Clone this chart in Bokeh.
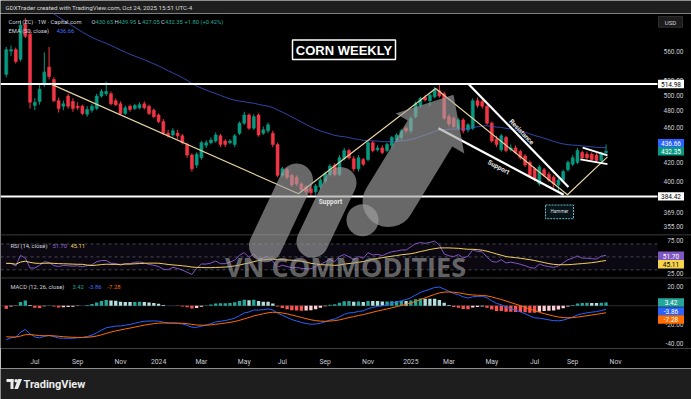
import math
import numpy as np
import pandas as pd
from bokeh.plotting import figure
from bokeh.layouts import column
from bokeh.models import Range1d, LinearScale, LogScale, FixedTicker
from bokeh.embed import file_html
from bokeh.resources import INLINE
from bokeh.core.properties import value

FONT = "Roboto"

# ---------------- data (weekly bars) ----------------
first_week = "2023-05-22"

opens = [528, 561, 563, 549, 601, 586, 487, 492, 514, 538,
         521, 493, 486, 499, 492, 486, 486, 476, 481, 483,
         499, 502, 502, 493, 489, 477, 486, 483, 484, 489,
         486, 481, 475, 467, 453, 451, 453, 450, 440, 428,
         417, 425, 439, 442, 444, 450, 444, 442, 440, 453,
         465, 475, 459, 475, 453, 456, 453, 440, 406, 412,
         406, 404, 397, 394, 392, 389, 394, 400, 407, 417,
         407, 424, 433, 424, 413, 423, 423, 442, 434, 436,
         433, 439, 445, 448, 459, 456, 473, 487, 497, 493,
         498, 506, 502, 473, 471, 459, 469, 457, 459, 493,
         492, 486, 465, 446, 434, 448, 434, 436, 432, 427,
         420, 413, 397, 412, 407, 404, 396, 401, 412, 418,
         420, 431, 429, 429, 428, 422, 430.65]

highs = [567, 569, 566, 608, 611, 592, 496, 514, 559, 567,
         524, 497, 493, 502, 496, 491, 488, 486, 489, 502,
         508, 518, 505, 496, 492, 487, 488, 489, 491, 492,
         488, 483, 477, 470, 457, 459, 457, 452, 442, 430,
         431, 444, 445, 448, 454, 452, 446, 446, 452, 467,
         479, 477, 476, 477, 461, 466, 456, 442, 415, 414,
         408, 406, 399, 396, 395, 397, 403, 410, 418, 419,
         428, 436, 435, 427, 428, 425, 444, 444, 439, 439,
         442, 450, 453, 458, 461, 473, 492, 498, 500, 503,
         511, 516, 505, 476, 473, 471, 471, 465, 496, 497,
         494, 488, 467, 450, 452, 450, 440, 439, 434, 429,
         422, 415, 417, 414, 410, 406, 403, 412, 422, 428,
         436, 433, 432, 431, 430, 432, 439.95]

lows = [524, 554, 543, 546, 580, 483, 481, 488, 511, 521,
        491, 478, 481, 483, 479, 481, 475, 473, 478, 481,
        497, 499, 487, 486, 475, 475, 479, 481, 482, 482,
        475, 471, 465, 451, 448, 449, 446, 440, 425, 410,
        414, 423, 436, 440, 442, 437, 437, 440, 437, 451,
        463, 457, 457, 449, 451, 453, 437, 404, 404, 402,
        394, 395, 389, 386, 385, 386, 392, 398, 405, 405,
        405, 422, 423, 410, 410, 416, 421, 431, 432, 429,
        431, 436, 443, 445, 453, 453, 471, 484, 492, 486,
        496, 497, 469, 461, 459, 457, 453, 454, 457, 484,
        483, 463, 442, 437, 432, 431, 432, 429, 423, 415,
        404, 400, 395, 404, 399, 393, 388, 399, 410, 416,
        418, 423, 423, 421, 420, 420, 427.05]

closes = [563, 563, 546, 600, 583, 491, 491, 508, 531, 525,
          493, 483, 489, 486, 483, 484, 477, 482, 486, 499,
          505, 505, 489, 488, 477, 484, 482, 487, 488, 484,
          477, 473, 467, 453, 450, 456, 450, 442, 428, 413,
          429, 442, 442, 445, 451, 440, 440, 444, 450, 465,
          475, 459, 473, 451, 457, 463, 440, 406, 413, 404,
          396, 397, 391, 389, 388, 395, 401, 408, 416, 407,
          425, 433, 425, 413, 425, 418, 442, 433, 436, 431,
          440, 448, 451, 456, 456, 471, 489, 496, 494, 500,
          508, 499, 471, 464, 461, 469, 456, 463, 493, 487,
          486, 465, 444, 440, 450, 433, 436, 431, 425, 417,
          406, 402, 415, 406, 401, 397, 401, 410, 420, 425,
          433, 425, 425, 423, 422, 430.55, 432.35]

# indicator state before the first visible bar
ema50_seed = 665.0
ema12_seed = 572.0
ema26_seed = 610.0
signal_seed = -32.0
rsi_gain_seed = 5.0
rsi_loss_seed = 7.5

# readouts shown on the chart
ohlc_letters = ["O", "H", "L", "C"]
ohlc_values = ["430.65", "439.95", "427.05", "432.35"]
change_text = "+1.80 (+0.42%)"
ema_last = 436.66
last_close = 432.35
rsi_last = 51.70
rsi_ma_last = 45.11
macd_hist_last = 3.42
macd_last = -3.86
macd_signal_last = -7.28

# drawings (bar index, price)
hlines = [514.98, 384.42]
zigzag_bar = [9.3, 61.4, 90.2, 117.9, 126.3]
zigzag_price = [515, 387, 509, 386, 426]
resist_bar = [97.1, 118.1]
resist_price = [515, 394]
support_bar = [90.8, 117.1]
support_price = [459, 386]
flag_top_bar = [121.1, 126.3]
flag_top_price = [436.3, 427.6]
flag_bot_bar = [120.6, 126.3]
flag_bot_price = [423.2, 418.0]

# axes
price_ticks = [560, 520, 500, 480, 460, 440, 420, 400, 369, 355]
rsi_ticks = [75, 25]
rsi_bands = [70, 50, 30]
macd_ticks = [20, -20, -40]
tick_months = ["2023-07", "2023-09", "2023-11", "2024-01", "2024-03", "2024-05",
               "2024-07", "2024-09", "2024-11", "2025-01", "2025-03", "2025-05",
               "2025-07", "2025-09", "2025-11"]
tick_labels = ["Jul", "Sep", "Nov", "2024", "Mar", "May", "Jul", "Sep", "Nov",
               "2025", "Mar", "May", "Jul", "Sep", "Nov"]

# ---------------- indicators ----------------
n = min(len(opens), len(highs), len(lows), len(closes))
opens, highs, lows, closes = opens[:n], highs[:n], lows[:n], closes[:n]
idx = list(range(n))

ema50 = []
e = ema50_seed
for c in closes:
    e += (2 / 51) * (c - e)
    ema50.append(e)

macd, signal, hist = [], [], []
e12, e26, sg = ema12_seed, ema26_seed, signal_seed
for c in closes:
    e12 += (2 / 13) * (c - e12)
    e26 += (2 / 27) * (c - e26)
    m = e12 - e26
    sg += (2 / 10) * (m - sg)
    macd.append(m)
    signal.append(sg)
    hist.append(m - sg)
hist_colors = []
for i, h in enumerate(hist):
    ph = hist[i - 1] if i > 0 else h
    if h >= 0:
        hist_colors.append("#26a69a" if h >= ph else "#b2dfdb")
    else:
        hist_colors.append("#ff5252" if h <= ph else "#ffcdd2")

rsi = []
ag, al = rsi_gain_seed, rsi_loss_seed
prev = None
for c in closes:
    if prev is not None:
        ch = c - prev
        ag = (ag * 13 + max(ch, 0)) / 14
        al = (al * 13 + max(-ch, 0)) / 14
    rsi.append(100 - 100 / (1 + ag / al))
    prev = c
rsi_ma = pd.Series(rsi).rolling(14, min_periods=1).mean().tolist()

dates = pd.date_range(first_week, periods=160, freq="7D")
tick_idx = []
for ym in tick_months:
    yy, mm = map(int, ym.split("-"))
    tick_idx.append(next(j for j, d in enumerate(dates) if d.year == yy and d.month == mm))

# ---------------- geometry helpers (page pixels <-> scales) ----------------
def px_to_bar(x):
    return (x - 5.76) / 4.76

def price_to_y(p):
    return 52 + 392.6 * math.log(560 / p)

def y_to_price(y):
    return 560 * math.exp(-(y - 52) / 392.6)

def rsi_to_y(v):
    return 245 + (75 - v) * 0.66

def y_to_rsi(y):
    return 75 - (y - 245) / 0.66

def macd_to_y(v):
    return 292 + (20 - v) * 0.9667

def y_to_macd(y):
    return 20 - (y - 292) / 0.9667

UP, DOWN = "#089981", "#f23645"
TXT = "#d1d4dc"
AX = "#c8cbd3"


def txt(fig, x, y, s, color, size="6px", align="left", baseline="middle",
        style="normal", font=FONT, angle=0.0, xr="px", yr="px", alpha=1.0):
    fig.text(x=[x], y=[y], text=[s], text_color=color, text_alpha=alpha,
             text_font=value(font), text_font_size=size, text_font_style=style,
             text_align=align, text_baseline=baseline, angle=angle,
             x_range_name=xr, y_range_name=yr)

# ---------------- header ----------------
head = figure(width=691, height=13, x_range=Range1d(0, 691), y_range=Range1d(13, 0),
              output_backend="svg", toolbar_location=None, x_axis_location=None,
              y_axis_location=None, min_border=0, background_fill_color="#1e1e1e",
              border_fill_color="#1e1e1e", outline_line_color=None)
head.grid.visible = False
txt(head, 5, 7, "GDXTrader created with TradingView.com, Oct 24, 2025 15:51 UTC-4",
    "#d9d9d9", size="6.2px", xr="default", yr="default")

# ---------------- main chart ----------------
p = figure(width=691, height=355,
           x_range=Range1d(px_to_bar(0), px_to_bar(691)),
           y_range=Range1d(y_to_price(355), y_to_price(13)),
           y_axis_type="log", y_axis_location=None, x_axis_location="below",
           output_backend="svg", toolbar_location=None,
           min_border_left=0, min_border_right=0, min_border_top=0, min_border_bottom=13,
           background_fill_color="#000000", border_fill_color="#000000",
           outline_line_color=None)
p.y_scale = LogScale()
p.grid.visible = False
p.extra_x_ranges = {"px": Range1d(0, 691)}
p.extra_x_scales = {"px": LinearScale()}
p.extra_y_ranges = {"px": Range1d(355, 13),
                    "rsi": Range1d(y_to_rsi(355), y_to_rsi(13)),
                    "macd": Range1d(y_to_macd(355), y_to_macd(13))}
p.extra_y_scales = {"px": LinearScale(), "rsi": LinearScale(), "macd": LinearScale()}

ax = p.xaxis[0]
ax.ticker = FixedTicker(ticks=tick_idx)
ax.major_label_overrides = {i: lab for i, lab in zip(tick_idx, tick_labels)}
ax.axis_line_color = None
ax.major_tick_line_color = None
ax.minor_tick_line_color = None
ax.major_label_text_color = AX
ax.major_label_text_font = FONT
ax.major_label_text_font_size = "6.8px"
ax.major_label_standoff = 3

PANE_R = 657
# pane backgrounds / separators
p.quad(left=[0], right=[PANE_R], bottom=[30], top=[70], fill_color="#7e57c2",
       fill_alpha=0.09, line_color=None, x_range_name="px", y_range_name="rsi")
p.segment(x0=[0, 0], x1=[691, 691], y0=[239, 283], y1=[239, 283], line_color="#3b3b3b",
          line_width=1, x_range_name="px", y_range_name="px")
p.segment(x0=[0] * 3, x1=[PANE_R] * 3, y0=rsi_bands, y1=rsi_bands, line_color="#787b86",
          line_alpha=0.7, line_dash="3 3", line_width=0.8, x_range_name="px", y_range_name="rsi")
p.segment(x0=[0], x1=[PANE_R], y0=[0], y1=[0], line_color="#787b86", line_alpha=0.45,
          line_width=0.8, x_range_name="px", y_range_name="macd")

# candles
cols = [UP if c >= o else DOWN for o, c in zip(opens, closes)]
p.segment(x0=idx, x1=idx, y0=lows, y1=highs, line_color=cols, line_width=1)
p.vbar(x=idx, width=0.62, top=[max(o, c) for o, c in zip(opens, closes)],
       bottom=[min(o, c) for o, c in zip(opens, closes)], fill_color=cols, line_color=cols,
       line_width=0.6)

# EMA 50
p.line(idx, ema50, line_color="#3f5fe0", line_alpha=0.75, line_width=1)

# RSI
p.line(idx, rsi, line_color="#7e57c2", line_width=1, y_range_name="rsi")
p.line(idx, rsi_ma, line_color="#f2d35b", line_width=1, y_range_name="rsi")

# MACD
p.vbar(x=idx, width=0.7, top=hist, bottom=0, fill_color=hist_colors, line_color=None,
       y_range_name="macd")
p.line(idx, macd, line_color="#2962ff", line_width=1, y_range_name="macd")
p.line(idx, signal, line_color="#ff6d00", line_width=1, y_range_name="macd")

# drawings
p.segment(x0=[0, 0], x1=[PANE_R, PANE_R], y0=hlines, y1=hlines, line_color="#ffffff",
          line_width=2, x_range_name="px")
p.line(zigzag_bar, zigzag_price, line_color="#e3d3a0", line_width=1.2)
p.line(resist_bar, resist_price, line_color="#ffffff", line_width=2.2)
p.line(support_bar, support_price, line_color="#ffffff", line_width=2.2)
p.line(flag_top_bar, flag_top_price, line_color="#ffffff", line_width=1.8)
p.line(flag_bot_bar, flag_bot_price, line_color="#ffffff", line_width=1.8)

# watermark (logo + text)
WM, WA = "#a3a3a3", 0.64
tip = np.array([453.0, 96.0])
tail = np.array([388.0, 205.0])
d = tip - tail
u = d / np.linalg.norm(d)
nv = np.array([-u[1], u[0]])
hb = tip - 46 * u
SW, HW = 26, 40
pts = [tail + SW * nv, hb + SW * nv, hb + HW * nv, tip, hb - HW * nv, hb - SW * nv, tail - SW * nv]
for th in np.linspace(0, math.pi, 16):
    pts.append(tail + SW * (-nv * math.cos(th) - u * math.sin(th)))
p.patch([q[0] for q in pts], [q[1] for q in pts], fill_color=WM, fill_alpha=WA,
        line_color=None, x_range_name="px", y_range_name="px")
p.line([296, 265], [183, 250], line_color=WM, line_alpha=WA, line_width=33, line_cap="round",
       x_range_name="px", y_range_name="px")
p.line([340, 312], [186, 246], line_color=WM, line_alpha=WA, line_width=32, line_cap="round",
       x_range_name="px", y_range_name="px")
p.scatter([362], [224], size=32, marker="circle", fill_color=WM, fill_alpha=WA,
          line_color=None, x_range_name="px", y_range_name="px")
txt(p, 345, 271, "VN COMMODITIES", WM, size="27px", align="center", font="Open Sans",
    style="bold", alpha=0.62)

# chart annotations
p.rect(x=[343.5], y=[50], width=103, height=20, fill_color="#000000", line_color="#ffffff",
       line_width=1.5, x_range_name="px", y_range_name="px")
txt(p, 343.5, 50.5, "CORN WEEKLY", "#ffffff", size="13px", align="center", style="bold",
    font="Liberation Sans")
txt(p, 330, 205, "Support", "#e6e6e6", size="6.5px", align="center", style="bold")
txt(p, 521, 134, "Resistance", "#e6e6e6", size="6.5px", align="center", style="bold",
    angle=-0.81)
txt(p, 498, 170, "Support", "#e6e6e6", size="6.5px", align="center", style="bold",
    angle=-0.497)
p.rect(x=[559], y=[215.5], width=28, height=14, fill_color="#06141a", line_color="#6fb7bf",
       line_width=1, line_dash="2 1", x_range_name="px", y_range_name="px")
txt(p, 559, 215.5, "Hammer", "#dddddd", size="4.6px", align="center")

# legends
txt(p, 8, 22, "Corn (ZC) · 1W · Capital.com", TXT, size="5.8px")
for lx, vx, let, val in zip([91, 114, 137.5, 160.5], [95, 118, 141.5, 164.5],
                            ohlc_letters, ohlc_values):
    txt(p, lx, 22, let, TXT, size="5.8px")
    txt(p, vx, 22, val, "#22ab94", size="5.8px")
txt(p, 184, 22, change_text, "#22ab94", size="5.8px")
txt(p, 8, 30.5, "EMA (50, close)", TXT, size="5.8px")
txt(p, 56, 30.5, f"{ema_last:.2f}", "#4a6cf7", size="5.8px")
txt(p, 10, 250, "RSI (14, close)", TXT, size="5.8px")
txt(p, 52, 250, f"{rsi_last:.2f}", "#8e6fd8", size="5.8px")
txt(p, 70, 250, f"{rsi_ma_last:.2f}", "#f2d35b", size="5.8px")
txt(p, 10, 292, "MACD (12, 26, close)", TXT, size="5.8px")
txt(p, 72, 292, f"{macd_hist_last:.2f}", "#26a69a", size="5.8px")
txt(p, 88, 292, f"{macd_last:.2f}", "#4a6cf7", size="5.8px")
txt(p, 107, 292, f"{macd_signal_last:.2f}", "#ff6d00", size="5.8px")

# right price scale labels
p.text(x=[683] * len(price_ticks), y=price_ticks, text=[f"{v:.2f}" for v in price_ticks],
       text_color=AX, text_font=value(FONT), text_font_size="6.5px", text_align="right",
       text_baseline="middle", x_range_name="px")
p.text(x=[683] * len(rsi_ticks), y=rsi_ticks, text=[f"{v:.2f}" for v in rsi_ticks],
       text_color=AX, text_font=value(FONT), text_font_size="6.5px", text_align="right",
       text_baseline="middle", x_range_name="px", y_range_name="rsi")
p.text(x=[683] * len(macd_ticks), y=macd_ticks, text=[f"{v:.2f}" for v in macd_ticks],
       text_color=AX, text_font=value(FONT), text_font_size="6.5px", text_align="right",
       text_baseline="middle", x_range_name="px", y_range_name="macd")

# USD box
p.rect(x=[670], y=[21.5], width=24, height=11, fill_color="#1c1c1c", line_color="#2e2e2e",
       x_range_name="px", y_range_name="px")
txt(p, 670, 22, "USD", TXT, size="6px", align="center")

# value tags on the scale
tags = [(price_to_y(hlines[0]), f"{hlines[0]:.2f}", "#ffffff", "#000000"),
        (price_to_y(ema_last) - 4.3, f"{ema_last:.2f}", "#2962ff", "#ffffff"),
        (price_to_y(last_close), f"{last_close:.2f}", "#089981", "#ffffff"),
        (price_to_y(hlines[1]), f"{hlines[1]:.2f}", "#ffffff", "#000000"),
        (rsi_to_y(rsi_last), f"{rsi_last:.2f}", "#7e57c2", "#ffffff"),
        (rsi_to_y(rsi_ma_last) + 4.3, f"{rsi_ma_last:.2f}", "#f5d34c", "#000000"),
        (macd_to_y(macd_hist_last), f"{macd_hist_last:.2f}", "#26a69a", "#ffffff"),
        (macd_to_y(macd_last) + 2, f"{macd_last:.2f}", "#2962ff", "#ffffff"),
        (macd_to_y(macd_signal_last) + 7, f"{macd_signal_last:.2f}", "#ff6d00", "#ffffff")]
for yc, s, bg, fg in tags:
    p.rect(x=[670.5], y=[yc], width=26, height=8.6, fill_color=bg, line_color=None,
           x_range_name="px", y_range_name="px")
    txt(p, 670.5, yc + 0.3, s, fg, size="6.5px", align="center")

# ---------------- footer ----------------
foot = figure(width=691, height=31, x_range=Range1d(0, 691), y_range=Range1d(399, 368),
              output_backend="svg", toolbar_location=None, x_axis_location=None,
              y_axis_location=None, min_border=0, background_fill_color="#1e1e1e",
              border_fill_color="#1e1e1e", outline_line_color=None)
foot.grid.visible = False
LOGO = "#ececec"
foot.quad(left=[6, 10], right=[13, 13], top=[378.5, 378.5], bottom=[381.5, 388.5],
          fill_color=LOGO, line_color=None)
foot.scatter([15.6], [380.2], size=3.4, marker="circle", fill_color=LOGO, line_color=None)
foot.patch([17.5, 21.5, 17.5, 13.8], [378.5, 378.5, 388.5, 388.5], fill_color=LOGO,
           line_color=None)
txt(foot, 23, 383.5, "TradingView", LOGO, size="11px", style="bold", xr="default",
    yr="default")

layout = column(head, p, foot, spacing=0)
open("out.html", "w").write(file_html(layout, INLINE))
